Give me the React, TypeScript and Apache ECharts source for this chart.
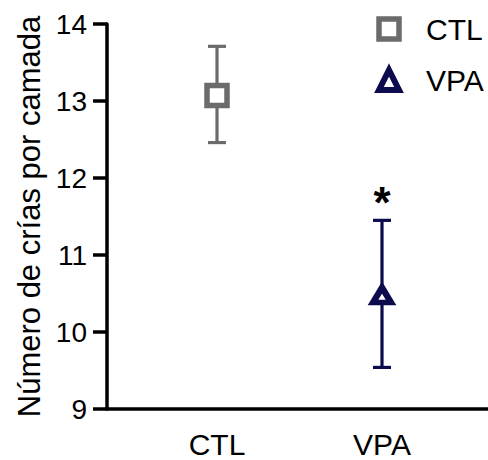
import React, { useEffect, useRef } from "react";
import * as echarts from "echarts";

const categories = ["CTL", "VPA"];
const means = [13.07, 10.48];
const upper = [13.71, 11.45];
const lower = [12.46, 9.54];
const marks = ["", "*"];
const yMin = 9;
const yMax = 14;
const yStep = 1;
const yTitle = "Número de crías por camada";

const FONT = "Liberation Sans, Arial, sans-serif";
const colors = ["#6b6b6b", "#0b0b4d"];
const symbols = ["rect", "triangle"];
const symbolSizes: any[] = [20, [18, 15]];
const borderWidths = [5.5, 6];

export default function App() {
  const ref = useRef<HTMLDivElement>(null);
  useEffect(() => {
    if (!ref.current) return;
    const chart = echarts.init(ref.current, null, { renderer: "svg" });
    const errData = categories.map((c, i) => [i, lower[i], upper[i], means[i]]);
    const option: any = {
      animation: false,
      backgroundColor: "#fff",
      textStyle: { fontFamily: FONT },
      grid: [
        { left: 134.5, right: 23.5, top: 24, bottom: 51 },
        { left: 107, right: 0, top: 24, bottom: 51 },
      ],
      xAxis: [
        {
          type: "category",
          gridIndex: 0,
          data: categories,
          axisLine: { show: false },
          axisTick: { show: false },
          axisLabel: { fontSize: 30, color: "#000", margin: 20, fontFamily: FONT },
        },
        {
          type: "value",
          gridIndex: 1,
          min: 0,
          max: 1,
          axisLine: { show: true, lineStyle: { color: "#000", width: 3.5 } },
          axisTick: { show: false },
          axisLabel: { show: false },
          splitLine: { show: false },
        },
      ],
      yAxis: [
        {
          type: "value",
          gridIndex: 0,
          min: yMin,
          max: yMax,
          interval: yStep,
          show: false,
        },
        {
          type: "value",
          gridIndex: 1,
          min: yMin,
          max: yMax,
          interval: yStep,
          axisLine: { show: true, lineStyle: { color: "#000", width: 3.5 } },
          axisTick: { show: true, length: 14, lineStyle: { color: "#000", width: 3.5 } },
          axisLabel: { fontSize: 28, color: "#000", margin: 20, fontFamily: FONT },
          splitLine: { show: false },
          name: yTitle,
          nameLocation: "middle",
          nameRotate: 90,
          nameGap: 62,
          nameTextStyle: { fontSize: 31, color: "#000", fontFamily: FONT },
        },
      ],
      legend: {
        orient: "vertical",
        left: 371,
        top: 9,
        itemWidth: 20,
        itemHeight: 20,
        itemGap: 21,
        textStyle: { fontSize: 30, color: "#000", lineHeight: 30, padding: [0, 0, 0, 22], fontFamily: FONT },
        data: categories.map((c, i) => ({
          name: c,
          icon: symbols[i],
          itemStyle: { color: "#fff", borderColor: colors[i], borderWidth: borderWidths[i] },
        })),
      },
      series: [
        {
          type: "custom",
          xAxisIndex: 0,
          yAxisIndex: 0,
          data: errData,
          encode: { x: 0, y: [1, 2] },
          silent: true,
          renderItem: (params: any, api: any) => {
            const i = params.dataIndex;
            const xi = api.value(0);
            const lo = api.coord([xi, api.value(1)]);
            const hi = api.coord([xi, api.value(2)]);
            const cap = 9;
            const style = { stroke: colors[i], lineWidth: 3.2 };
            const children: any[] = [
              { type: "line", shape: { x1: lo[0], y1: lo[1], x2: hi[0], y2: hi[1] }, style },
              { type: "line", shape: { x1: lo[0] - cap, y1: lo[1], x2: lo[0] + cap, y2: lo[1] }, style },
              { type: "line", shape: { x1: hi[0] - cap, y1: hi[1], x2: hi[0] + cap, y2: hi[1] }, style },
            ];
            if (marks[i]) {
              children.push({
                type: "text",
                x: hi[0],
                y: hi[1] - 18,
                style: {
                  text: marks[i],
                  fontSize: 44,
                  fontWeight: "bold",
                  fontFamily: FONT,
                  fill: "#000",
                  textAlign: "center",
                  textVerticalAlign: "middle",
                },
              });
            }
            return { type: "group", children };
          },
          z: 1,
        },
        ...categories.map((c, i) => ({
          type: "scatter",
          name: c,
          xAxisIndex: 0,
          yAxisIndex: 0,
          symbol: symbols[i],
          symbolSize: symbolSizes[i],
          data: [[i, means[i]]],
          itemStyle: { color: "#fff", borderColor: colors[i], borderWidth: borderWidths[i], opacity: 1 },
          z: 3,
        })),
      ],
    };
    chart.setOption(option);
    return () => chart.dispose();
  }, []);
  return (
    <div
      ref={ref}
      style={{ position: "fixed", left: 0, top: 0, width: 488, height: 460, background: "#fff" }}
    />
  );
}
